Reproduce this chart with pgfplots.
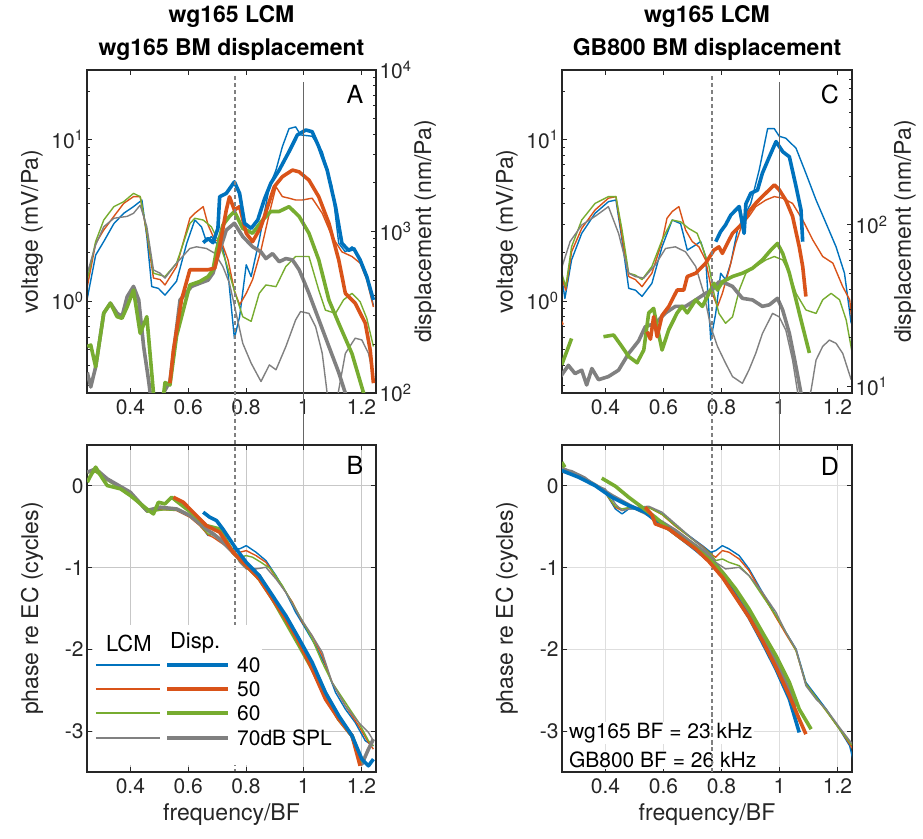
\documentclass[border=0pt]{standalone}
\usepackage{fontspec}
\setmainfont{TeX Gyre Heros}
\usepackage{pgfplots}
\pgfplotsset{compat=1.18}

\definecolor{mblue}{RGB}{0,114,189}
\definecolor{morange}{RGB}{217,83,25}
\definecolor{mgreen}{RGB}{119,172,48}
\definecolor{mgray}{RGB}{128,128,128}
\definecolor{axcol}{RGB}{38,38,38}

\tikzset{
  lcm/.style={line width=1.4pt},
  disp/.style={line width=3.6pt},
  refsolid/.style={draw=black!60, line width=1.4pt},
  refdash/.style={draw=black!50, line width=1.5pt, dash pattern=on 4pt off 3pt},
  letter/.style={font=\fontsize{25}{28}\selectfont, text=black},
}
\pgfplotsset{
  panel/.style={
    scale only axis, anchor=south west,
    xmin=0.25, xmax=1.25,
    xtick={0.4,0.6,0.8,1,1.2}, xticklabels={0.4,0.6,0.8,1,1.2},
    tick align=inside,
    major tick length=5pt, minor tick length=3pt,
    axis line style={line width=1.6pt, draw=axcol},
    every tick/.append style={line width=0.9pt, draw=axcol},
    tick label style={font=\fontsize{21}{25}\selectfont, text=axcol},
    xticklabel style={yshift=-3pt},
    label style={font=\fontsize{23}{27}\selectfont, text=axcol},
    title style={font=\bfseries\fontsize{23}{30}\selectfont, align=center, yshift=0pt},
    every axis plot/.append style={line join=round},
    clip mode=individual,
  },
}

\begin{document}
\begin{tikzpicture}
\useasboundingbox (0,0) rectangle (923pt,838pt);

% ---------------- A : voltage (left) ----------------
\begin{axis}[panel, at={(87pt,445pt)}, width=289pt, height=323pt,
  ymode=log, ymin=0.27, ymax=27, xtick pos=both, ytick pos=left,
  ytick={1,10}, yticklabels={10\textsuperscript{0},10\textsuperscript{1}},
  minor ytick={0.3,0.4,0.5,0.6,0.7,0.8,0.9,2,3,4,5,6,7,8,9,20},
  ylabel={voltage (mV/Pa)},
  ylabel style={at={(axis description cs:-0.19,0.5)}, anchor=center, rotate=0},
  title={wg165 LCM\\[3pt]wg165 BM displacement}]
\addplot[lcm, mblue] coordinates {(0.251,1.04) (0.280,1.93) (0.308,2.34) (0.343,3.02) (0.377,3.50) (0.411,3.85) (0.440,4.23) (0.457,2.51) (0.474,1.23) (0.497,1.20) (0.520,1.09) (0.560,1.33) (0.595,2.28) (0.623,3.18) (0.646,2.89) (0.663,2.34) (0.680,2.51) (0.698,2.28) (0.715,2.34) (0.738,1.49) (0.760,0.588) (0.778,0.80) (0.801,1.68) (0.818,1.42) (0.846,2.39) (0.881,5.11) (0.904,6.49) (0.926,9.05) (0.949,11.7) (0.972,12.0) (0.989,10.7) (1.029,10.5) (1.064,8.42) (1.098,5.11) (1.121,2.28) (1.144,2.02) (1.167,2.17) (1.195,1.80) (1.218,1.42) (1.241,0.94)};
\addplot[lcm, morange] coordinates {(0.251,1.23) (0.280,2.28) (0.308,2.76) (0.343,3.35) (0.377,4.03) (0.411,4.44) (0.434,4.44) (0.457,2.63) (0.480,1.39) (0.503,1.36) (0.520,1.26) (0.560,1.64) (0.606,3.26) (0.623,3.50) (0.652,3.85) (0.669,2.96) (0.692,2.39) (0.715,2.34) (0.738,1.80) (0.760,1.16) (0.778,0.95) (0.801,1.118) (0.823,1.36) (0.852,2.07) (0.881,3.50) (0.904,5.11) (0.926,4.44) (0.949,4.34) (0.972,4.23) (0.995,4.23) (1.029,4.34) (1.064,3.50) (1.098,2.51) (1.132,2.02) (1.167,1.89) (1.195,1.72) (1.218,1.36) (1.241,0.92)};
\addplot[lcm, mgreen] coordinates {(0.251,1.36) (0.280,2.34) (0.308,3.18) (0.343,3.85) (0.377,4.13) (0.411,4.65) (0.434,4.44) (0.457,2.70) (0.480,1.49) (0.503,1.45) (0.520,1.42) (0.560,1.72) (0.606,3.02) (0.623,3.26) (0.652,3.18) (0.680,2.89) (0.709,2.28) (0.732,1.72) (0.760,1.16) (0.789,0.80) (0.818,0.75) (0.846,1.118) (0.869,1.26) (0.904,1.23) (0.938,1.64) (0.972,1.89) (1.018,1.89) (1.052,1.17) (1.075,0.88) (1.110,0.84) (1.138,1.02) (1.167,1.118) (1.195,0.993) (1.218,0.783) (1.241,0.524)};
\addplot[lcm, mgray] coordinates {(0.251,1.49) (0.280,2.23) (0.308,2.89) (0.343,3.26) (0.389,3.35) (0.411,3.50) (0.434,3.93) (0.457,2.89) (0.480,1.56) (0.503,1.49) (0.520,1.39) (0.560,1.72) (0.606,2.12) (0.629,2.17) (0.663,2.12) (0.692,1.98) (0.720,1.64) (0.743,1.29) (0.766,0.84) (0.789,0.548) (0.818,0.413) (0.852,0.318) (0.881,0.403) (0.904,0.376) (0.938,0.523) (0.972,0.766) (0.989,0.862) (1.018,0.84) (1.041,0.695) (1.064,0.475) (1.081,0.269) (1.104,0.184) (1.121,0.282) (1.144,0.475) (1.178,0.59) (1.201,0.575) (1.224,0.475) (1.241,0.341)};
\end{axis}

% ---------------- A : displacement (right) ----------------
\begin{axis}[panel, at={(87pt,445pt)}, width=289pt, height=323pt,
  ymode=log, ymin=100, ymax=10000, hide x axis,
  ytick pos=right, yticklabel pos=right,
  ytick={100,1000,10000}, yticklabels={10\textsuperscript{2},10\textsuperscript{3},10\textsuperscript{4}},
  minor ytick={200,300,400,500,600,700,800,900,2000,3000,4000,5000,6000,7000,8000,9000},
  ylabel={displacement (nm/Pa)},
  ylabel style={at={(axis description cs:1.17,0.5)}, anchor=center, rotate=0}]
\addplot[disp, mgray] coordinates {(0.251,134) (0.263,109) (0.280,145) (0.308,312) (0.331,360) (0.354,312) (0.371,297) (0.389,395) (0.411,457) (0.429,377) (0.446,194) (0.463,120) (0.474,84) (0.497,70) (0.514,99.6) (0.537,118) (0.572,377) (0.612,457) (0.640,478) (0.669,500) (0.686,552) (0.709,765) (0.732,1020) (0.760,1125) (0.789,930) (0.823,805) (0.852,748) (0.869,680) (0.892,730) (0.915,650) (0.938,680) (0.961,667) (0.984,580) (1.018,414) (1.052,285) (1.087,194) (1.121,134) (1.144,99.6) (1.161,75)};
\addplot[disp, mgreen] coordinates {(0.251,194) (0.263,198) (0.280,145) (0.308,312) (0.331,360) (0.354,297) (0.371,290) (0.389,342) (0.411,434) (0.434,234) (0.457,297) (0.480,100) (0.491,70) (0.509,80) (0.520,116) (0.537,112) (0.560,226) (0.606,467) (0.640,490) (0.669,526) (0.686,580) (0.698,765) (0.720,1095) (0.743,1240) (0.760,1330) (0.789,1045) (0.823,975) (0.858,1180) (0.886,1330) (0.915,1330) (0.949,1425) (0.984,1240) (1.018,975) (1.052,667) (1.087,377) (1.121,270) (1.167,175) (1.207,100) (1.224,75)};
\addplot[disp, morange] coordinates {(0.537,115) (0.549,184) (0.577,377) (0.606,580) (0.640,580) (0.669,580) (0.692,593) (0.709,805) (0.732,1359) (0.743,1640) (0.760,1359) (0.778,1425) (0.801,975) (0.823,865) (0.852,1070) (0.875,1425) (0.898,1895) (0.926,2185) (0.961,2400) (0.984,2340) (1.018,2080) (1.052,1640) (1.087,1125) (1.121,667) (1.144,414) (1.178,360) (1.213,270) (1.230,184) (1.241,115)};
\addplot[disp, mblue] coordinates {(0.652,853) (0.669,905) (0.686,853) (0.703,1045) (0.709,1642) (0.732,1722) (0.760,2030) (0.778,1722) (0.795,1125) (0.818,1045) (0.841,1180) (0.863,1568) (0.886,1990) (0.915,2400) (0.949,3119) (0.978,3963) (1.007,4250) (1.029,4150) (1.052,3350) (1.081,2400) (1.110,1425) (1.132,845) (1.155,765) (1.173,785) (1.195,667) (1.218,526) (1.241,377)};
\draw[refsolid] (rel axis cs:0.75,0.963) -- (rel axis cs:0.75,-1.1734);
\draw[refdash] (rel axis cs:0.512,0.981) -- (rel axis cs:0.512,-1.1734);
\node[letter] at (rel axis cs:0.927,0.923) {A};
\end{axis}

% ---------------- C : voltage (left) ----------------
\begin{axis}[panel, at={(562pt,445pt)}, width=290pt, height=323pt,
  ymode=log, ymin=0.27, ymax=27, xtick pos=both, ytick pos=left,
  ytick={1,10}, yticklabels={10\textsuperscript{0},10\textsuperscript{1}},
  minor ytick={0.3,0.4,0.5,0.6,0.7,0.8,0.9,2,3,4,5,6,7,8,9,20},
  ylabel={voltage (mV/Pa)},
  ylabel style={at={(axis description cs:-0.19,0.5)}, anchor=center, rotate=0},
  title={wg165 LCM\\[3pt]GB800 BM displacement}]
\addplot[lcm, mblue] coordinates {(0.245,1.57) (0.260,1.04) (0.283,1.80) (0.318,2.63) (0.364,3.50) (0.410,4.13) (0.436,4.23) (0.457,2.39) (0.480,1.20) (0.503,1.17) (0.526,1.07) (0.560,1.29) (0.595,2.17) (0.630,3.18) (0.659,3.02) (0.682,2.07) (0.711,2.23) (0.728,2.34) (0.745,1.89) (0.763,0.574) (0.780,0.84) (0.797,1.49) (0.814,1.36) (0.832,1.72) (0.855,2.76) (0.878,3.35) (0.901,4.03) (0.930,6.49) (0.959,11.7) (0.982,11.7) (0.999,10.5) (1.022,10.2) (1.057,8.85) (1.091,6.19) (1.126,4.23) (1.161,3.02) (1.195,2.17) (1.224,1.49) (1.247,0.73)};
\addplot[lcm, morange] coordinates {(0.245,1.49) (0.263,1.17) (0.283,2.02) (0.318,2.82) (0.364,3.67) (0.410,4.34) (0.436,4.44) (0.457,2.51) (0.480,1.42) (0.503,1.36) (0.526,1.23) (0.560,1.49) (0.595,2.34) (0.612,3.26) (0.630,3.59) (0.653,3.85) (0.676,2.76) (0.699,2.34) (0.722,2.17) (0.745,1.80) (0.768,1.118) (0.786,0.925) (0.803,1.118) (0.826,1.56) (0.849,2.28) (0.872,3.02) (0.895,3.35) (0.918,3.85) (0.953,4.23) (0.982,4.44) (1.011,4.34) (1.045,4.03) (1.080,3.18) (1.115,2.39) (1.149,1.89) (1.184,1.72) (1.218,1.23) (1.242,1.02) (1.253,0.67)};
\addplot[lcm, mgreen] coordinates {(0.245,1.57) (0.263,1.23) (0.283,2.17) (0.318,3.18) (0.364,4.03) (0.410,4.44) (0.436,4.44) (0.457,2.76) (0.480,1.49) (0.503,1.45) (0.526,1.36) (0.560,1.64) (0.595,2.39) (0.630,3.18) (0.659,3.10) (0.687,2.82) (0.716,2.63) (0.734,2.17) (0.757,1.64) (0.774,1.118) (0.791,0.84) (0.814,0.73) (0.838,0.80) (0.861,1.17) (0.884,1.49) (0.918,1.64) (0.953,1.80) (0.982,1.89) (1.011,1.80) (1.034,1.49) (1.057,1.118) (1.091,0.882) (1.126,0.84) (1.149,1.02) (1.178,1.118) (1.207,1.02) (1.230,0.765) (1.253,0.452)};
\addplot[lcm, mgray] coordinates {(0.245,1.53) (0.278,2.34) (0.318,2.96) (0.364,3.35) (0.410,3.85) (0.445,2.63) (0.480,1.49) (0.503,1.42) (0.532,1.39) (0.572,1.68) (0.607,2.12) (0.641,2.17) (0.676,2.02) (0.711,1.64) (0.739,1.118) (0.763,0.695) (0.786,0.525) (0.814,0.413) (0.838,0.341) (0.872,0.31) (0.895,0.376) (0.918,0.475) (0.941,0.63) (0.976,0.84) (0.999,0.80) (1.022,0.66) (1.045,0.432) (1.063,0.269) (1.080,0.184) (1.109,0.282) (1.126,0.432) (1.149,0.525) (1.172,0.574) (1.195,0.548) (1.218,0.475) (1.247,0.327)};
\end{axis}

% ---------------- C : displacement (right) ----------------
\begin{axis}[panel, at={(562pt,445pt)}, width=290pt, height=323pt,
  ymode=log, ymin=9.1, ymax=910, hide x axis,
  ytick pos=right, yticklabel pos=right,
  ytick={10,100}, yticklabels={10\textsuperscript{1},10\textsuperscript{2}},
  minor ytick={20,30,40,50,60,70,80,90,200,300,400,500,600,700,800,900},
  ylabel={displacement (nm/Pa)},
  ylabel style={at={(axis description cs:1.183,0.5)}, anchor=center, rotate=0}]
\addplot[disp, mgray] coordinates {(0.245,11.5) (0.272,13.5) (0.295,12.0) (0.318,12.6) (0.335,10.2) (0.353,12.9) (0.376,11.0) (0.410,11.5) (0.445,12.6) (0.480,16.0) (0.514,19.1) (0.537,23.4) (0.572,24.6) (0.607,28.5) (0.641,31.3) (0.676,31.3) (0.711,34.3) (0.745,37.7) (0.768,39.6) (0.791,44.4) (0.814,43.5) (0.838,41.6) (0.872,35.1) (0.907,34.3) (0.941,31.3) (0.965,32.0) (0.993,35.1) (1.011,29.7) (1.034,21.3) (1.057,13.2) (1.074,9.07) (1.086,6.9)};
\addplot[disp, mgreen] coordinates {(0.249,13.6) (0.266,16.4) (0.283,19.8)};
\addplot[disp, mgreen] coordinates {(0.393,20.3) (0.428,20.8) (0.457,17.6) (0.480,15.3) (0.509,14.0) (0.532,16.8) (0.549,28.5) (0.566,30.4) (0.578,23.4) (0.595,16.8) (0.618,22.4) (0.647,28.5) (0.664,31.3) (0.682,28.5) (0.711,34.3) (0.734,31.3) (0.757,37.7) (0.774,43.5) (0.786,39.5) (0.803,44.4) (0.838,47.9) (0.872,50.2) (0.907,53.9) (0.941,60.7) (0.970,69.8) (0.993,76.8) (1.011,66.6) (1.034,50.2) (1.057,34.3) (1.080,23.4) (1.103,16.1)};
\addplot[disp, morange] coordinates {(0.245,25.2) (0.251,24.0)};
\addplot[disp, morange] coordinates {(0.543,21.8) (0.555,19.6) (0.566,27.0) (0.578,20.3) (0.595,27.5) (0.618,31.2) (0.647,39.5) (0.670,39.5) (0.682,47.9) (0.711,50.2) (0.745,57.8) (0.774,69.8) (0.791,73.1) (0.803,66.6) (0.820,76.8) (0.838,88.6) (0.861,97.4) (0.878,105) (0.895,121) (0.918,136) (0.941,150) (0.965,165) (0.982,177) (0.999,165) (1.022,142) (1.045,113) (1.068,73.3) (1.080,55.2) (1.091,36.0)};
\addplot[disp, mblue] coordinates {(0.780,78.7) (0.797,90.8) (0.814,100) (0.832,115) (0.861,130) (0.878,88.6) (0.884,135) (0.901,157) (0.924,164) (0.941,209) (0.965,264) (0.988,328) (1.011,284) (1.034,264) (1.057,173) (1.074,124) (1.080,78.7)};
\draw[refsolid] (rel axis cs:0.75,0.963) -- (rel axis cs:0.75,-1.1734);
\draw[refdash] (rel axis cs:0.518,0.981) -- (rel axis cs:0.518,-1.1734);
\node[letter] at (rel axis cs:0.924,0.923) {C};
\end{axis}

% ---------------- B : phase ----------------
\begin{axis}[panel, at={(87pt,66pt)}, width=289pt, height=327pt,
  ymin=-3.5, ymax=0.5, ytick={-3,-2,-1,0}, yticklabels={-3,-2,-1,0},
  xtick pos=both, ytick pos=both,
  grid=major, grid style={black!22, line width=0.8pt},
  xlabel={frequency/BF},
  xlabel style={at={(axis description cs:0.5,-0.131)}, anchor=center},
  ylabel={phase re EC (cycles)},
  ylabel style={at={(axis description cs:-0.19,0.5)}, anchor=center, rotate=0}]
\addplot[lcm, mblue] coordinates {(0.251,0.176) (0.280,0.188) (0.320,0.086) (0.366,-0.016) (0.400,-0.098) (0.429,-0.200) (0.457,-0.302) (0.480,-0.302) (0.514,-0.282) (0.560,-0.282) (0.606,-0.363) (0.640,-0.465) (0.669,-0.608) (0.686,-0.588) (0.720,-0.690) (0.755,-0.771) (0.778,-0.771) (0.801,-0.731) (0.835,-0.812) (0.869,-0.914) (0.904,-1.098) (0.938,-1.302) (0.972,-1.547) (1.007,-1.751) (1.041,-1.955) (1.075,-2.200) (1.110,-2.527) (1.144,-2.731) (1.178,-2.894) (1.213,-3.118) (1.241,-3.180)};
\addplot[lcm, morange] coordinates {(0.251,0.167) (0.280,0.176) (0.320,0.078) (0.366,-0.029) (0.400,-0.110) (0.429,-0.208) (0.457,-0.314) (0.480,-0.306) (0.514,-0.290) (0.560,-0.302) (0.606,-0.384) (0.640,-0.486) (0.669,-0.600) (0.686,-0.629) (0.720,-0.710) (0.755,-0.792) (0.778,-0.812) (0.801,-0.792) (0.835,-0.853) (0.869,-0.935) (0.915,-1.180) (0.961,-1.424) (0.995,-1.669) (1.029,-1.833) (1.064,-2.078) (1.098,-2.404) (1.144,-2.690) (1.190,-2.935) (1.224,-3.139) (1.241,-3.220)};
\addplot[lcm, mgreen] coordinates {(0.251,0.159) (0.280,0.167) (0.320,0.065) (0.366,-0.037) (0.400,-0.118) (0.429,-0.216) (0.457,-0.322) (0.480,-0.310) (0.514,-0.294) (0.560,-0.298) (0.606,-0.371) (0.640,-0.478) (0.669,-0.588) (0.686,-0.600) (0.720,-0.690) (0.755,-0.804) (0.778,-0.873) (0.801,-0.853) (0.823,-0.873) (0.852,-0.935) (0.886,-1.016) (0.926,-1.220) (0.972,-1.506) (0.995,-1.649) (1.029,-1.873) (1.064,-2.159) (1.098,-2.404) (1.144,-2.649) (1.190,-2.894) (1.224,-3.118) (1.241,-3.180)};
\addplot[lcm, mgray] coordinates {(0.251,0.176) (0.280,0.200) (0.320,0.094) (0.366,-0.004) (0.400,-0.078) (0.429,-0.180) (0.457,-0.294) (0.480,-0.282) (0.514,-0.265) (0.560,-0.282) (0.606,-0.355) (0.640,-0.453) (0.669,-0.547) (0.686,-0.567) (0.720,-0.669) (0.755,-0.792) (0.778,-0.935) (0.801,-1.016) (0.835,-1.016) (0.869,-0.996) (0.904,-1.139) (0.938,-1.302) (0.984,-1.588) (1.029,-1.833) (1.064,-2.037) (1.098,-2.404) (1.144,-2.690) (1.190,-2.894) (1.224,-3.016) (1.241,-3.118)};
\addplot[disp, mgray] coordinates {(0.251,0.167) (0.280,0.208) (0.320,0.086) (0.400,-0.078) (0.457,-0.302) (0.503,-0.261) (0.560,-0.282) (0.606,-0.363) (0.663,-0.527) (0.709,-0.649) (0.755,-0.812) (0.801,-0.976) (0.846,-1.098) (0.892,-1.384) (0.938,-1.629) (0.984,-1.914) (1.029,-2.220) (1.075,-2.567) (1.121,-2.853) (1.167,-3.057) (1.201,-3.404) (1.224,-3.220) (1.241,-3.098)};
\addplot[disp, mgreen] coordinates {(0.251,0.045) (0.263,0.127) (0.280,0.229) (0.297,0.127) (0.320,0.004) (0.366,-0.037) (0.400,-0.118) (0.457,-0.282) (0.480,-0.343) (0.497,-0.200) (0.520,-0.220) (0.543,-0.139) (0.572,-0.220) (0.617,-0.343) (0.663,-0.486) (0.709,-0.527) (0.755,-0.812) (0.801,-0.976) (0.846,-1.139) (0.892,-1.384) (0.938,-1.669) (0.984,-1.955) (1.029,-2.241) (1.075,-2.567) (1.121,-2.853) (1.167,-3.057) (1.201,-3.384)};
\addplot[disp, morange] coordinates {(0.549,-0.139) (0.583,-0.200) (0.617,-0.322) (0.663,-0.486) (0.709,-0.567) (0.755,-0.812) (0.801,-0.976) (0.846,-1.139) (0.892,-1.384) (0.938,-1.629) (0.984,-1.914) (1.029,-2.241) (1.075,-2.608) (1.121,-2.853) (1.167,-3.057) (1.195,-3.424)};
\addplot[disp, mblue] coordinates {(0.652,-0.322) (0.675,-0.384) (0.698,-0.424) (0.720,-0.527) (0.743,-0.649) (0.766,-0.771) (0.801,-0.935) (0.846,-1.098) (0.892,-1.343) (0.938,-1.588) (0.984,-1.873) (1.029,-2.159) (1.075,-2.527) (1.121,-2.812) (1.167,-3.057) (1.201,-3.343) (1.224,-3.424) (1.241,-3.343)};
% legend
\fill[white] (rel axis cs:0.02,0.02) rectangle (rel axis cs:0.6055,0.4495);
\node[font=\fontsize{22}{25}\selectfont] at (rel axis cs:0.145,0.394) {LCM};
\node[font=\fontsize{22}{25}\selectfont] at (rel axis cs:0.374,0.394) {Disp.};
\draw[mblue, lcm] (rel axis cs:0.031,0.327) -- (rel axis cs:0.253,0.327);
\draw[mblue, disp] (rel axis cs:0.277,0.327) -- (rel axis cs:0.488,0.327);
\draw[morange, lcm] (rel axis cs:0.031,0.254) -- (rel axis cs:0.253,0.254);
\draw[morange, disp] (rel axis cs:0.277,0.254) -- (rel axis cs:0.488,0.254);
\draw[mgreen, lcm] (rel axis cs:0.031,0.180) -- (rel axis cs:0.253,0.180);
\draw[mgreen, disp] (rel axis cs:0.277,0.180) -- (rel axis cs:0.488,0.180);
\draw[mgray, lcm] (rel axis cs:0.031,0.104) -- (rel axis cs:0.253,0.104);
\draw[mgray, disp] (rel axis cs:0.277,0.104) -- (rel axis cs:0.488,0.104);
\node[font=\fontsize{21}{25}\selectfont, anchor=west, inner sep=0pt] at (rel axis cs:0.519,0.327) {40};
\node[font=\fontsize{21}{25}\selectfont, anchor=west, inner sep=0pt] at (rel axis cs:0.519,0.254) {50};
\node[font=\fontsize{21}{25}\selectfont, anchor=west, inner sep=0pt] at (rel axis cs:0.519,0.180) {60};
\node[font=\fontsize{21}{25}\selectfont, anchor=west, inner sep=0pt] at (rel axis cs:0.519,0.104) {70dB SPL};
\node[letter] at (rel axis cs:0.927,0.939) {B};
\end{axis}

% ---------------- D : phase ----------------
\begin{axis}[panel, at={(562pt,66pt)}, width=290pt, height=327pt,
  ymin=-3.5, ymax=0.5, ytick={-3,-2,-1,0}, yticklabels={-3,-2,-1,0},
  xtick pos=both, ytick pos=both,
  grid=major, grid style={black!13, line width=0.8pt},
  xlabel={frequency/BF},
  xlabel style={at={(axis description cs:0.5,-0.131)}, anchor=center},
  ylabel={phase re EC (cycles)},
  ylabel style={at={(axis description cs:-0.19,0.5)}, anchor=center, rotate=0}]
\addplot[lcm, mblue] coordinates {(0.249,0.188) (0.283,0.167) (0.330,0.086) (0.364,0.004) (0.399,-0.078) (0.434,-0.282) (0.457,-0.343) (0.480,-0.282) (0.514,-0.282) (0.549,-0.261) (0.595,-0.343) (0.641,-0.486) (0.687,-0.608) (0.734,-0.731) (0.763,-0.812) (0.780,-0.792) (0.803,-0.731) (0.826,-0.771) (0.861,-0.853) (0.895,-1.016) (0.941,-1.302) (0.988,-1.588) (1.022,-1.792) (1.057,-1.996) (1.091,-2.404) (1.126,-2.567) (1.161,-2.731) (1.207,-2.976) (1.242,-3.180) (1.253,-3.343)};
\addplot[lcm, morange] coordinates {(0.249,0.167) (0.283,0.159) (0.330,0.078) (0.364,-0.004) (0.399,-0.086) (0.434,-0.261) (0.457,-0.302) (0.480,-0.273) (0.514,-0.282) (0.549,-0.261) (0.595,-0.351) (0.641,-0.494) (0.687,-0.616) (0.734,-0.739) (0.763,-0.833) (0.780,-0.873) (0.803,-0.792) (0.826,-0.812) (0.861,-0.894) (0.895,-1.037) (0.941,-1.322) (0.988,-1.608) (1.022,-1.812) (1.057,-2.016) (1.091,-2.424) (1.126,-2.588) (1.161,-2.751) (1.207,-2.976) (1.242,-3.159) (1.253,-3.220)};
\addplot[lcm, mgreen] coordinates {(0.249,0.176) (0.283,0.163) (0.330,0.082) (0.364,0.000) (0.399,-0.082) (0.434,-0.249) (0.457,-0.282) (0.480,-0.265) (0.514,-0.273) (0.549,-0.265) (0.595,-0.347) (0.641,-0.486) (0.687,-0.616) (0.734,-0.751) (0.763,-0.833) (0.780,-0.914) (0.803,-0.894) (0.826,-0.935) (0.861,-0.976) (0.895,-1.098) (0.941,-1.343) (0.988,-1.588) (1.022,-1.792) (1.057,-2.016) (1.091,-2.424) (1.126,-2.588) (1.161,-2.751) (1.207,-2.976) (1.242,-3.139) (1.253,-3.180)};
\addplot[lcm, mgray] coordinates {(0.249,0.200) (0.283,0.188) (0.330,0.106) (0.364,0.012) (0.399,-0.037) (0.434,-0.220) (0.457,-0.302) (0.480,-0.282) (0.514,-0.261) (0.549,-0.249) (0.595,-0.322) (0.641,-0.465) (0.687,-0.608) (0.734,-0.751) (0.763,-0.853) (0.780,-0.935) (0.814,-1.016) (0.861,-0.996) (0.895,-1.098) (0.941,-1.302) (0.988,-1.547) (1.022,-1.792) (1.057,-1.996) (1.091,-2.445) (1.126,-2.608) (1.161,-2.731) (1.207,-2.955) (1.242,-3.118) (1.253,-3.159)};
\addplot[disp, mgray] coordinates {(0.249,0.216) (0.307,0.127) (0.364,0.012) (0.422,-0.118) (0.480,-0.233) (0.537,-0.331) (0.595,-0.445) (0.641,-0.547) (0.687,-0.669) (0.734,-0.792) (0.780,-0.955) (0.826,-1.159) (0.872,-1.404) (0.918,-1.690) (0.965,-1.996) (1.011,-2.322) (1.057,-2.690)};
\addplot[disp, mblue] coordinates {(0.249,0.188) (0.307,0.106) (0.364,0.004) (0.422,-0.139) (0.480,-0.241) (0.537,-0.322) (0.572,-0.424) (0.618,-0.527) (0.664,-0.649) (0.711,-0.780) (0.757,-0.914) (0.803,-1.106) (0.849,-1.351) (0.895,-1.608) (0.941,-1.914) (0.988,-2.241) (1.034,-2.608) (1.068,-3.016)};
\addplot[disp, mgreen] coordinates {(0.249,0.290) (0.260,0.229)};
\addplot[disp, mgreen] coordinates {(0.387,0.094) (0.434,-0.004) (0.480,-0.139) (0.526,-0.261) (0.572,-0.384) (0.618,-0.527) (0.664,-0.649) (0.711,-0.763) (0.757,-0.894) (0.803,-1.057) (0.849,-1.261) (0.895,-1.506) (0.941,-1.792) (0.988,-2.078) (1.034,-2.404) (1.068,-2.731) (1.109,-2.976)};
\addplot[disp, morange] coordinates {(0.537,-0.261) (0.560,-0.355) (0.572,-0.465) (0.618,-0.527) (0.664,-0.649) (0.711,-0.771) (0.757,-0.927) (0.803,-1.118) (0.849,-1.363) (0.895,-1.608) (0.941,-1.894) (0.988,-2.220) (1.034,-2.567) (1.068,-2.853) (1.091,-3.037)};
\node[font=\fontsize{21}{25}\selectfont, anchor=west, fill=white, inner sep=1pt] at (rel axis cs:0.02,0.119) {wg165 BF = 23 kHz};
\node[font=\fontsize{21}{25}\selectfont, anchor=west, fill=white, inner sep=1pt] at (rel axis cs:0.02,0.037) {GB800 BF = 26 kHz};
\draw[refdash] (rel axis cs:0.518,0) -- (rel axis cs:0.518,0.2);
\node[letter] at (rel axis cs:0.924,0.936) {D};
\end{axis}
\end{tikzpicture}
\end{document}
